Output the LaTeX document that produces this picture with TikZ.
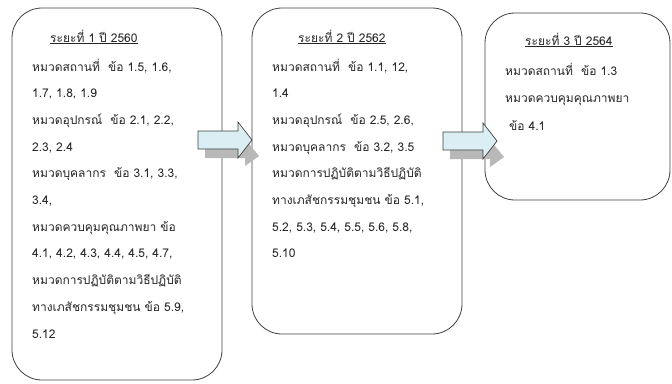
\documentclass[tikz,border=0pt]{standalone}
\usepackage{fontspec}
\setmainfont[Script=Thai]{Loma}
\definecolor{arrowfill}{HTML}{DAEEF3}
\definecolor{framecol}{HTML}{404040}
\begin{document}
\begin{tikzpicture}[x=1pt,y=-1pt,
  phasebox/.style={draw=framecol,line width=0.8pt,rounded corners=30pt,fill=white},
  phaseline/.style={anchor=base west,inner sep=0pt,text=black!85,
    font=\fontsize{12}{14}\selectfont},
  pics/blockarr/.style={code={
    \fill[black!28] (7,8) -- (47,8) -- (47,-1) -- (61,16) -- (47,26) -- (47,18) -- (7,18) -- cycle;
    \draw[framecol,line width=0.7pt,fill=arrowfill]
      (0,-9) -- (40,-9) -- (40,-18) -- (54,0) -- (40,18) -- (40,9) -- (0,9) -- cycle;
  }}]
\useasboundingbox (0,0) rectangle (672,383);

% three phase boxes
\draw[phasebox] (12,8) rectangle (222,380);
\draw[phasebox] (252,8) rectangle (462,334);
\draw[phasebox] (485,13) rectangle (670,200);

% arrows between the phases
\pic at (198,140) {blockarr};
\pic at (443,141) {blockarr};

% phase 1
\node[phaseline] (t1) at (50,42) {\underline{ระยะที่ 1 ปี 2560}};
\foreach \txt [count=\i] in {
  {หมวดสถานที่ \ ข้อ 1.5, 1.6,},
  {1.7, 1.8, 1.9},
  {หมวดอุปกรณ์ \ ข้อ 2.1, 2.2,},
  {2.3, 2.4},
  {หมวดบุคลากร \ ข้อ 3.1, 3.3,},
  {3.4,},
  {หมวดควบคุมคุณภาพยา ข้อ},
  {4.1, 4.2, 4.3, 4.4, 4.5, 4.7,},
  {หมวดการปฏิบัติตามวิธีปฏิบัติ},
  {ทางเภสัชกรรมชุมชน ข้อ 5.9,},
  {5.12}}
  \node[phaseline] (p1l\i) at (32,{71+26.7*(\i-1)}) {\txt};

% phase 2
\node[phaseline] (t2) at (298,42) {\underline{ระยะที่ 2 ปี 2562}};
\foreach \txt [count=\i] in {
  {หมวดสถานที่ \ ข้อ 1.1, 12,},
  {1.4},
  {หมวดอุปกรณ์ \ ข้อ 2.5, 2.6,},
  {หมวดบุคลากร \ ข้อ 3.2, 3.5},
  {หมวดการปฏิบัติตามวิธีปฏิบัติ},
  {ทางเภสัชกรรมชุมชน ข้อ 5.1,},
  {5.2, 5.3, 5.4, 5.5, 5.6, 5.8,},
  {5.10}}
  \node[phaseline] (p2l\i) at (272,{71+26.7*(\i-1)}) {\txt};

% phase 3
\node[phaseline] (t3) at (525,45) {\underline{ระยะที่ 3 ปี 2564}};
\node[phaseline] (p3l1) at (505,75) {หมวดสถานที่ \ ข้อ 1.3};
\node[phaseline] (p3l2) at (505,102) {หมวดควบคุมคุณภาพยา};
\node[phaseline] (p3l3) at (509,130) {ข้อ 4.1};
\end{tikzpicture}
\end{document}
